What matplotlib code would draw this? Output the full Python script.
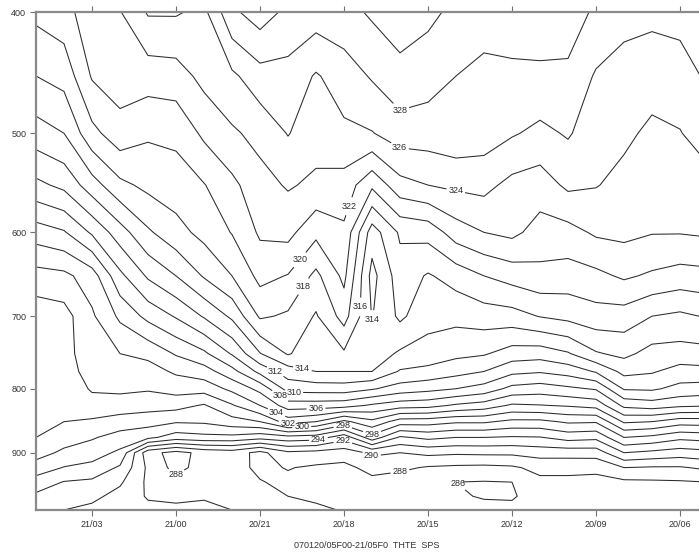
import numpy as np
import matplotlib
matplotlib.use("Agg")
import matplotlib.pyplot as plt
from matplotlib.font_manager import FontProperties
from matplotlib.ticker import FixedLocator, NullLocator, FixedFormatter

# pressure levels (hPa), bottom to top
levels_hpa = [1000, 975, 950, 925, 900, 875, 850, 825, 800, 775, 750, 700, 650, 600, 550, 500, 450, 400]

# equivalent potential temperature (K), one profile per hour (1000 -> 400 hPa)
t21_05 = [292.5, 293.6, 295.1, 297.1, 298.8, 300.0, 300.3, 300.4, 300.5, 300.5, 300.6, 300.8, 303.2, 307.0, 311.5, 315.1, 318.0, 320.5]
t21_04 = [292.0, 292.8, 293.9, 295.9, 297.6, 298.9, 300.0, 300.4, 300.8, 301.0, 301.2, 301.2, 303.5, 307.8, 312.5, 316.0, 318.7, 321.2]
t21_03 = [291.5, 292.5, 293.6, 295.4, 296.9, 298.2, 299.7, 301.3, 302.2, 302.9, 303.3, 303.7, 305.0, 310.3, 315.1, 319.4, 322.2, 323.3]
t21_02 = [290.5, 291.3, 292.3, 293.7, 295.6, 297.2, 299.1, 301.1, 302.4, 303.2, 304.0, 306.4, 309.5, 313.1, 317.5, 321.2, 323.0, 323.9]
t21_01 = [290.5, 289.8, 289.6, 289.6, 288.7, 296.5, 298.8, 300.8, 302.2, 303.2, 304.5, 308.6, 312.3, 315.7, 318.5, 320.3, 322.9, 326.2]
t21_00 = [290.6, 289.4, 288.7, 287.3, 287.3, 295.0, 298.2, 300.7, 302.8, 304.3, 306.2, 310.2, 314.0, 317.3, 319.0, 320.5, 323.1, 326.2]
t20_23 = [290.5, 289.8, 289.2, 288.9, 288.6, 295.4, 298.3, 299.8, 302.8, 305.1, 307.6, 312.2, 316.2, 318.6, 319.9, 322.4, 324.6, 325.5]
t20_22 = [290.0, 289.6, 289.0, 288.7, 289.0, 295.4, 299.2, 301.8, 304.5, 307.3, 310.2, 314.4, 318.0, 320.1, 321.5, 323.7, 325.6, 329.6]
t20_21 = [289.0, 288.6, 288.1, 287.6, 287.4, 294.7, 300.0, 304.0, 306.6, 310.6, 313.9, 318.3, 320.6, 322.3, 323.3, 324.6, 327.2, 331.0]
t20_20 = [288.7, 288.0, 287.6, 288.1, 289.6, 295.3, 302.9, 307.0, 310.8, 313.0, 316.2, 317.7, 319.9, 322.6, 324.2, 326.1, 327.3, 329.5]
t20_19 = [288.3, 287.7, 287.3, 287.7, 289.3, 295.0, 302.0, 307.0, 310.9, 314.0, 314.6, 315.8, 317.5, 320.5, 323.6, 324.8, 325.8, 329.0]
t20_18 = [287.9, 287.4, 287.2, 287.5, 288.9, 292.8, 299.5, 306.8, 311.0, 314.0, 315.7, 318.8, 320.5, 321.6, 323.2, 325.6, 327.0, 329.3]
t20_17 = [287.8, 287.2, 287.5, 288.6, 290.4, 297.2, 301.5, 305.7, 310.2, 314.0, 315.1, 313.9, 313.3, 315.0, 320.4, 325.9, 328.2, 330.3]
t20_16 = [287.2, 286.8, 287.0, 288.4, 290.0, 293.7, 299.0, 304.9, 309.1, 311.8, 313.7, 316.4, 317.1, 318.3, 323.3, 327.0, 329.4, 331.0]
t20_15 = [287.0, 286.6, 286.5, 287.8, 290.5, 294.5, 298.9, 304.7, 308.6, 311.4, 313.2, 314.7, 315.8, 318.7, 324.0, 327.0, 328.8, 330.5]
t20_14 = [287.0, 286.3, 286.0, 287.6, 290.3, 294.0, 298.3, 303.7, 308.0, 310.7, 312.5, 314.6, 316.8, 321.0, 324.4, 327.4, 328.0, 329.5]
t20_13 = [286.7, 285.8, 285.9, 287.5, 290.4, 294.0, 298.3, 303.1, 307.2, 310.0, 312.2, 315.0, 318.0, 322.0, 324.6, 327.0, 327.4, 329.0]
t20_12 = [286.7, 285.7, 286.0, 287.7, 290.4, 293.8, 297.5, 301.7, 305.4, 308.5, 311.1, 315.2, 318.8, 322.5, 323.4, 326.2, 327.4, 329.5]
t20_11 = [287.6, 287.3, 287.5, 288.6, 290.8, 293.9, 297.5, 301.9, 305.0, 308.2, 310.9, 316.1, 319.4, 321.2, 323.0, 325.5, 327.6, 329.2]
t20_10 = [287.5, 287.2, 287.5, 288.6, 290.8, 294.8, 298.3, 302.2, 305.6, 308.8, 311.8, 316.6, 319.1, 321.3, 324.4, 326.2, 327.4, 329.5]
t20_09 = [287.3, 287.2, 287.4, 288.5, 290.9, 294.5, 298.2, 302.7, 306.2, 310.2, 313.8, 317.2, 319.5, 322.3, 324.1, 324.9, 325.8, 327.5]
t20_08 = [287.6, 287.4, 287.6, 290.0, 294.0, 298.0, 302.3, 306.5, 310.2, 312.6, 314.5, 317.1, 320.3, 322.5, 323.4, 324.4, 325.4, 326.5]
t20_07 = [287.5, 287.4, 287.7, 289.8, 293.5, 297.5, 302.0, 307.0, 310.3, 312.2, 313.3, 316.0, 319.7, 322.1, 322.8, 323.6, 324.8, 326.5]
t20_06 = [287.6, 287.5, 287.8, 289.8, 293.0, 296.5, 300.9, 306.4, 309.4, 311.2, 313.2, 315.6, 319.2, 322.1, 323.0, 323.9, 325.2, 326.6]
t20_05 = [287.6, 287.6, 288.0, 290.4, 293.4, 296.8, 301.0, 306.2, 309.1, 311.4, 313.3, 316.2, 319.4, 322.3, 323.2, 325.1, 326.3, 327.5]

profiles = [t21_05, t21_04, t21_03, t21_02, t21_01, t21_00,
            t20_23, t20_22, t20_21, t20_20, t20_19, t20_18, t20_17,
            t20_16, t20_15, t20_14, t20_13, t20_12, t20_11, t20_10,
            t20_09, t20_08, t20_07, t20_06, t20_05]

# hours after 20/05 for each profile (21/05 first)
hours = list(range(24, -1, -1))

tick_hours = [22, 19, 16, 13, 10, 7, 4, 1]
tick_labels = ["21/03", "21/00", "20/21", "20/18", "20/15", "20/12", "20/09", "20/06"]
p_ticks = [400, 500, 600, 700, 800, 900]

contour_levels = list(range(284, 336, 2))

# contour labels: level, and where along that contour it sits (hour, hPa)
label_level = [328, 326, 324, 322, 320, 318, 316, 314, 312, 314, 310, 308,
               306, 304, 302, 300, 298, 294, 292, 298, 290, 288, 288, 286]
label_hour = [11.0, 11.1, 9.04, 12.7, 14.5, 14.3, 12.5, 11.85, 15.46, 14.5, 14.8, 15.4,
              14.0, 15.5, 15.0, 14.5, 13.04, 13.9, 13.04, 12.0, 12.0, 11.0, 19.0, 9.04]
label_hpa = [490, 517, 560, 573, 633, 666, 688, 708, 776, 774, 814, 818,
             832, 845, 856, 866, 856, 881, 880, 875, 903, 932, 952, 959]

W, H = 699, 552
fig = plt.figure(figsize=(W / 100, H / 100), dpi=100)
fig.patch.set_facecolor("white")

# plot frame: 21/05 at left edge, 20/05 just past the right edge of the image
left, right, top, bottom = 36, 708, 12, 510
ax = fig.add_axes([left / W, 1 - bottom / H, (right - left) / W, (bottom - top) / H])

X, P = np.meshgrid(hours, levels_hpa)
Z = np.array(profiles).T

cs = ax.contour(X, P, Z, levels=contour_levels, colors="#2b2b2b",
                linewidths=0.75, linestyles="solid")

ax.set_yscale("log")
ax.set_xlim(24, 0)
ax.set_ylim(1000, 400)

ax.yaxis.set_major_locator(FixedLocator(p_ticks))
ax.yaxis.set_major_formatter(FixedFormatter([str(p) for p in p_ticks]))
ax.yaxis.set_minor_locator(NullLocator())
ax.xaxis.set_major_locator(FixedLocator(tick_hours))
ax.xaxis.set_major_formatter(FixedFormatter(tick_labels))
ax.xaxis.set_minor_locator(NullLocator())

font = "Liberation Sans"
ax.tick_params(axis="both", which="major", length=4, width=0.8,
               color="#707070", labelsize=6.5, labelcolor="#333333",
               direction="out", pad=3)
ax.tick_params(axis="x", top=True, labeltop=False)
for lab in ax.get_xticklabels() + ax.get_yticklabels():
    lab.set_fontfamily(font)

for side in ["left", "bottom", "top", "right"]:
    ax.spines[side].set_color("#8a8a8a")
    ax.spines[side].set_linewidth(1.6)

# set up labelling for all levels, then place each label on its own level
ax.clabel(cs, inline=True, fontsize=6.5, fmt="%d", manual=[], inline_spacing=2)
cs._label_font_props = FontProperties(family=font, size=6.5)
level_index = {int(round(v)): i for i, v in enumerate(cs.levels)}
for lev, hr, hp in zip(label_level, label_hour, label_hpa):
    cs.labelIndiceList = [level_index[lev]]
    cs.add_label_near(hr, hp, inline=True, inline_spacing=2)
for t in cs.labelTexts:
    t.set_rotation(0)
    t.set_color("#2b2b2b")

fig.text(367 / W, 1 - 545 / H, "070120/05F00-21/05F0  THTE  SPS",
         ha="center", va="center", fontsize=6.5, color="#333333",
         fontfamily=font)

fig.savefig("out.png", dpi=100, facecolor="white")
